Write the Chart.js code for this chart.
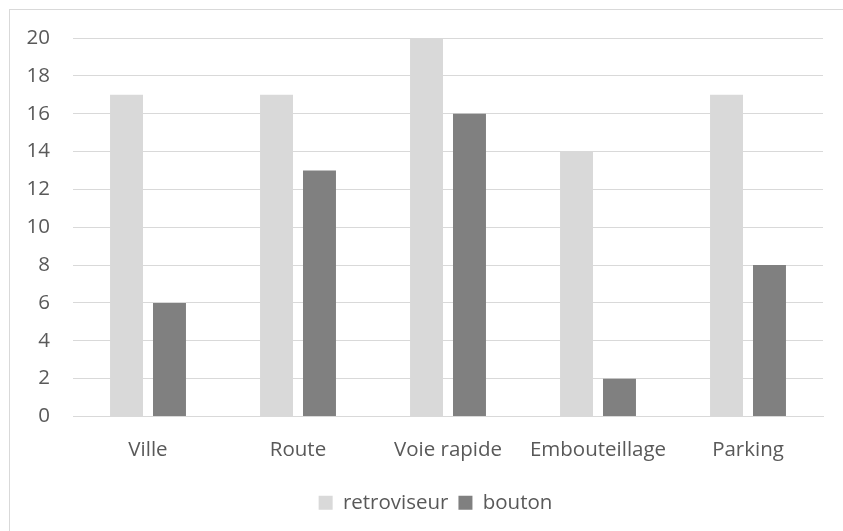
<!DOCTYPE html>
<html>
<head>
<meta charset="utf-8">
<script src="https://cdn.jsdelivr.net/npm/chart.js@4/dist/chart.umd.min.js"></script>
<style>
  html, body { margin: 0; padding: 0; background: #fff; }
  #frame { position: absolute; left: 9px; top: 9px; width: 840px; height: 530px; border: 1px solid #d9d9d9; }
  #wrap { position: absolute; left: 0; top: 0; width: 843px; height: 531px; }
</style>
</head>
<body>
<div id="frame"></div>
<div id="wrap"><canvas id="myChart"></canvas></div>
<script>
// Data
var categories = ["Ville", "Route", "Voie rapide", "Embouteillage", "Parking"];
var retroviseur = [17, 17, 20, 14, 17];
var bouton = [6, 13, 16, 2, 8];
var yTicks = [0, 2, 4, 6, 8, 10, 12, 14, 16, 18, 20];

Chart.defaults.font.family = "'Open Sans', sans-serif";
Chart.defaults.font.size = 20.5;
Chart.defaults.color = '#595959';

// nudge the legend a bit to the right, like the original
var legendShift = {
    id: 'legendShift',
    afterLayout: function (chart) {
        chart.legend.left += 24;
        chart.legend.right += 24;
    }
};

var ctx = document.getElementById('myChart').getContext('2d');
var myChart = new Chart(ctx, {
    type: 'bar',
    data: {
        labels: categories,
        datasets: [{
            label: 'retroviseur',
            data: retroviseur,
            backgroundColor: '#d9d9d9'
        }, {
            label: 'bouton',
            data: bouton,
            backgroundColor: '#808080'
        }]
    },
    options: {
        responsive: true,
        maintainAspectRatio: false,
        animation: false,
        categoryPercentage: 0.573,
        barPercentage: 0.767,
        layout: {
            padding: { top: 38, right: 20, bottom: 8, left: 0 }
        },
        plugins: {
            tooltip: { enabled: false },
            legend: {
                position: 'bottom',
                labels: {
                    boxWidth: 14,
                    boxHeight: 14,
                    padding: 10
                }
            }
        },
        scales: {
            x: {
                grid: { display: false, drawTicks: false },
                border: { color: '#d9d9d9', width: 1 },
                ticks: { padding: 21, maxRotation: 0 },
                afterFit: function (s) { s.height = 66; }
            },
            y: {
                min: 0,
                max: 20,
                afterBuildTicks: function (s) { s.ticks = yTicks.map(function (v) { return { value: v }; }); },
                grid: { color: '#d9d9d9', drawTicks: false },
                border: { display: false },
                ticks: { padding: 23 },
                afterFit: function (s) { s.width = 73; }
            }
        }
    },
    plugins: [legendShift]
});
</script>
</body>
</html>
